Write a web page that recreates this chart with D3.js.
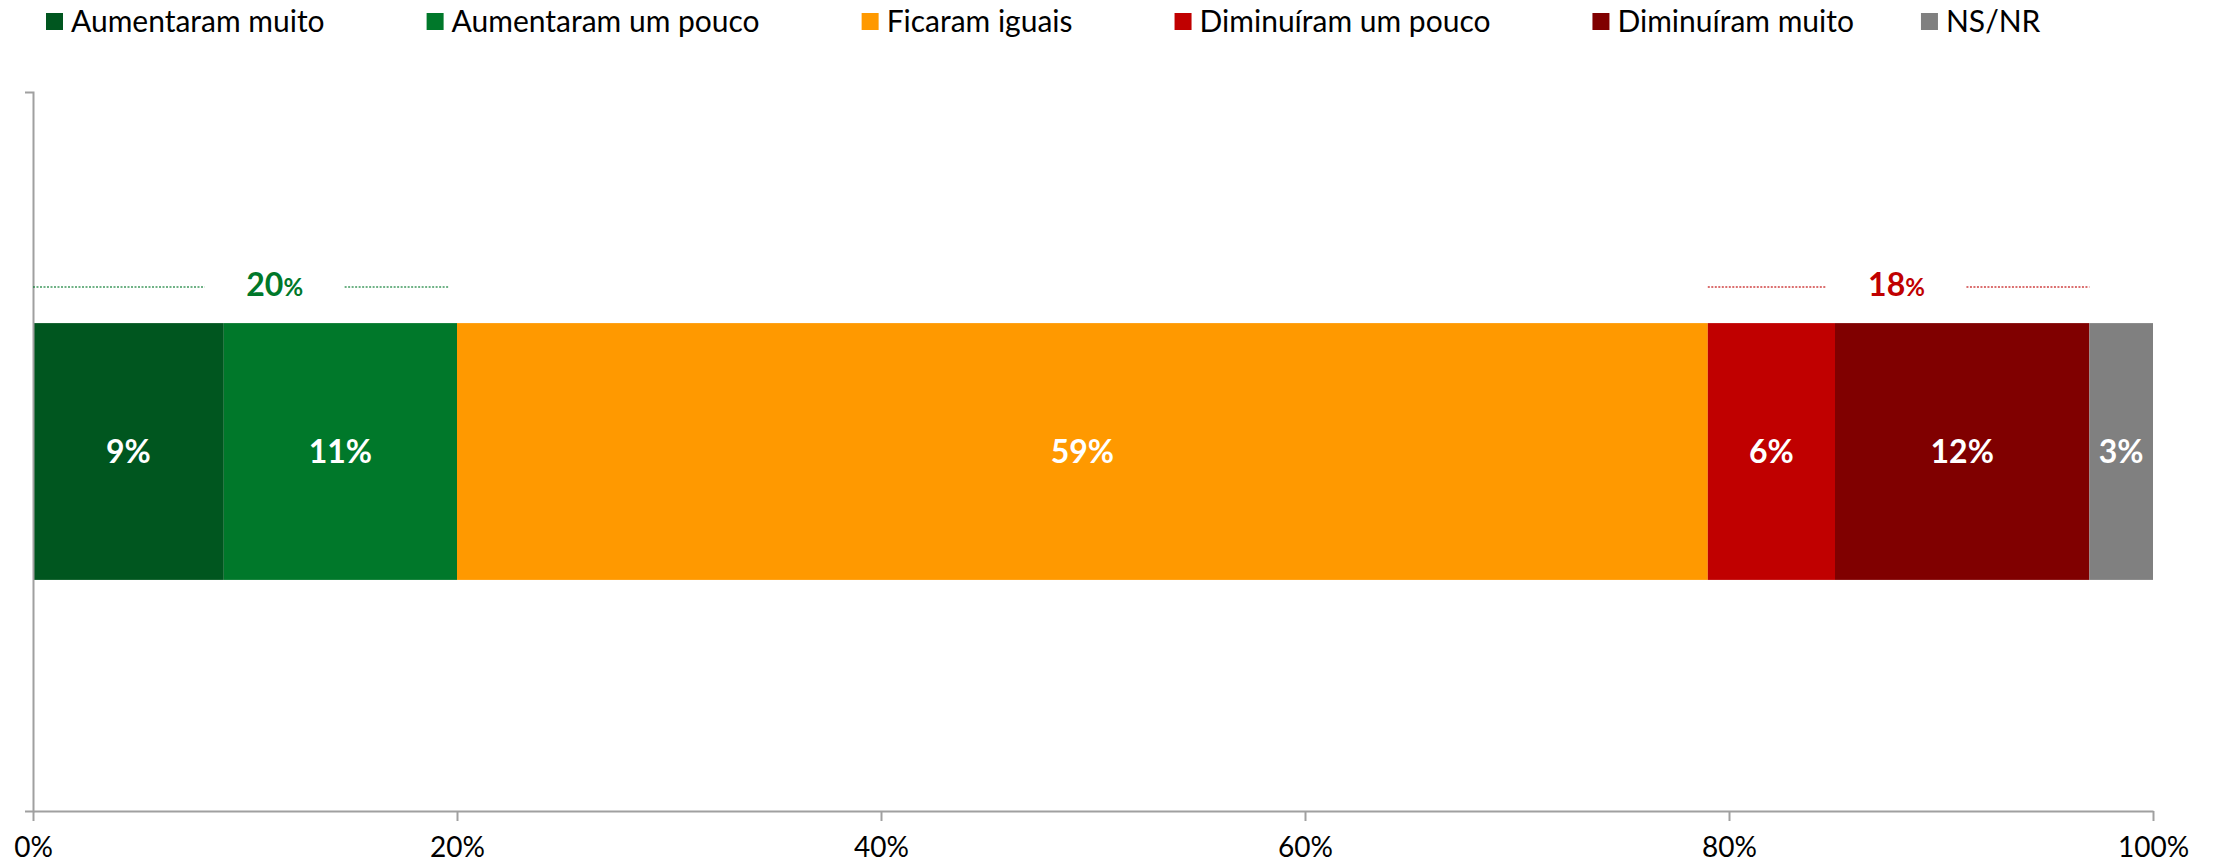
<!DOCTYPE html>
<html>
<head>
<meta charset="utf-8">
<script src="https://cdn.jsdelivr.net/npm/d3@7"></script>
<style>
  html, body { margin: 0; padding: 0; background: #fff; }
  svg { display: block; }
  text { font-family: Lato, "Open Sans", "Liberation Sans", sans-serif; }
</style>
</head>
<body>
<svg id="chart" width="2220" height="863"></svg>
<script>
// ---- data ----
const categories = ["Aumentaram muito", "Aumentaram um pouco", "Ficaram iguais",
                    "Diminuíram um pouco", "Diminuíram muito", "NS/NR"];
const values = [9, 11, 59, 6, 12, 3];
const colors = ["#00561F", "#00782A", "#FF9900", "#C00000", "#800000", "#808080"];
const xTicks = [0, 20, 40, 60, 80, 100];
const xTickLabels = ["0%", "20%", "40%", "60%", "80%", "100%"];
// summary brackets: total, start / end of dotted span (in %), label centre (in %), colour
const summaryTotals = [20, 18];
const summaryStart = [0, 79];
const summaryEnd = [19.6, 97];
const summaryCenter = [11.4, 87.9];
const summaryColors = ["#00782A", "#C00000"];

// ---- layout ----
const svg = d3.select("#chart");
const plotLeft = 33, plotRight = 2153, plotTop = 92, plotBottom = 811;
const x = d3.scaleLinear().domain([0, 100]).range([plotLeft, plotRight]);
const y = d3.scaleBand().domain(["bar"]).range([plotTop, plotBottom]).paddingInner(0).paddingOuter(0.9);
const axisColor = "#A0A0A0";

// stacked data
let acc = 0;
const stacked = values.map((v, i) => { const d = {cat: categories[i], v, x0: acc, x1: acc + v, color: colors[i]}; acc += v; return d; });

// bars
svg.append("g").selectAll("rect").data(stacked).join("rect")
  .attr("x", d => x(d.x0))
  .attr("width", d => x(d.x1) - x(d.x0))
  .attr("y", y("bar"))
  .attr("height", y.bandwidth())
  .attr("fill", d => d.color);

// bar labels
svg.append("g").selectAll("text").data(stacked).join("text")
  .attr("x", d => x((d.x0 + d.x1) / 2))
  .attr("y", y("bar") + y.bandwidth() / 2)
  .attr("dy", "0.36em")
  .attr("text-anchor", "middle")
  .attr("fill", "#fff")
  .attr("font-weight", "bold")
  .attr("font-size", 32)
  .text(d => d.v + "%");

// x axis
const xAxis = d3.axisBottom(x).tickValues(xTicks).tickFormat((d, i) => xTickLabels[i])
  .tickSize(10).tickSizeOuter(0).tickPadding(16);
const gx = svg.append("g").attr("transform", `translate(0,${plotBottom})`).call(xAxis);
gx.select(".domain").attr("stroke", axisColor).attr("stroke-width", 2);
gx.selectAll(".tick line").attr("stroke", axisColor).attr("stroke-width", 2);
gx.selectAll(".tick text").attr("font-size", 28).attr("fill", "#000")
  .style("font-family", 'Lato, "Open Sans", sans-serif');

// y axis (category axis, outer ticks only)
const yLin = d3.scaleLinear().domain([0, 1]).range([plotBottom, plotTop]);
const yAxis = d3.axisLeft(yLin).tickValues([]).tickSizeOuter(8);
const gy = svg.append("g").attr("transform", `translate(${plotLeft},0)`).call(yAxis);
gy.select(".domain").attr("stroke", axisColor).attr("stroke-width", 2).attr("fill", "none");

// summary brackets
const lineY = 287;
const gapHalf = 3.3;
summaryTotals.forEach((t, i) => {
  const g = svg.append("g");
  const segs = [[summaryStart[i], summaryCenter[i] - gapHalf], [summaryCenter[i] + gapHalf, summaryEnd[i]]];
  g.selectAll("line").data(segs).join("line")
    .attr("x1", d => x(d[0])).attr("x2", d => x(d[1]))
    .attr("y1", lineY).attr("y2", lineY)
    .attr("stroke", summaryColors[i]).attr("stroke-width", 1.4)
    .attr("stroke-dasharray", "2,1.5").attr("opacity", 0.75);
  const txt = g.append("text")
    .attr("x", x(summaryCenter[i]))
    .attr("y", 296)
    .attr("text-anchor", "middle")
    .attr("fill", summaryColors[i])
    .attr("font-weight", "bold");
  txt.append("tspan").attr("font-size", 32).text(t);
  txt.append("tspan").attr("font-size", 24).text("%");
});

// legend
const legend = svg.append("g");
let lx = 46;
const sq = 17, gapText = 8;
const legendGaps = [102, 102, 102, 102, 67];
categories.forEach((c, i) => {
  legend.append("rect").attr("x", lx).attr("y", 13).attr("width", sq).attr("height", sq).attr("fill", colors[i]);
  const t = legend.append("text").attr("x", lx + sq + gapText).attr("y", 32)
    .attr("font-size", 30).attr("fill", "#000").text(c);
  const w = t.node().getComputedTextLength();
  lx += sq + gapText + w + (legendGaps[i] || 0);
});
</script>
</body>
</html>
